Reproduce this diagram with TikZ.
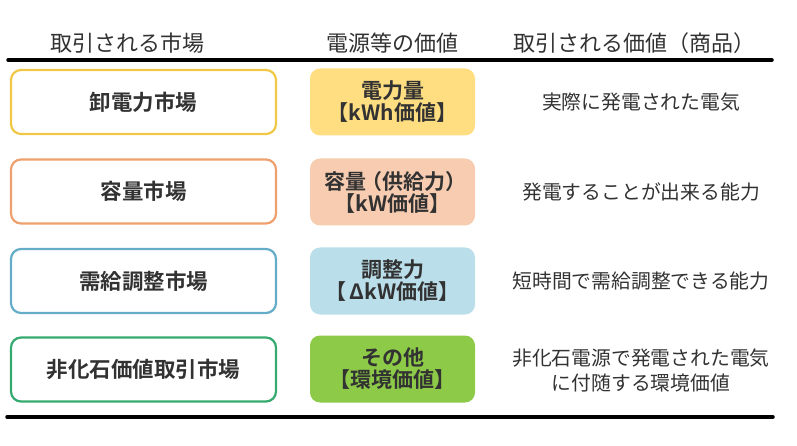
\documentclass[tikz,border=0pt]{standalone}
\usepackage{fontspec}
\setmainfont{Noto Sans CJK JP}[BoldFont={Noto Sans CJK JP Bold}]
\usetikzlibrary{positioning}
\definecolor{kwhline}{RGB}{240,200,70}
\definecolor{kwhfill}{RGB}{255,222,130}
\definecolor{kwline}{RGB}{238,160,110}
\definecolor{kwfill}{RGB}{248,204,176}
\definecolor{dkwline}{RGB}{100,172,200}
\definecolor{dkwfill}{RGB}{186,222,234}
\definecolor{envline}{RGB}{52,170,110}
\definecolor{envfill}{RGB}{140,202,72}
\definecolor{inkgray}{RGB}{50,50,50}

\tikzset{
  head/.style={font=\fontsize{22}{24}\selectfont, text=inkgray},
  rule/.style={line width=3.5pt, line cap=round},
  mktbox/.style={draw=#1, line width=2.2pt, rounded corners=10pt, minimum width=265pt, minimum height=64pt, font=\fontsize{21.5}{24}\selectfont\bfseries, text=inkgray},
  valbox/.style={fill=#1, rounded corners=10pt, minimum width=165pt, minimum height=67pt, align=center, inner sep=2pt, font=\fontsize{21}{22}\selectfont\bfseries, text=inkgray},
  goods/.style={align=center, font=\fontsize{19.8}{25}\selectfont, text=inkgray}
}

\begin{document}
\begin{tikzpicture}[x=1pt, y=-1pt]
  \useasboundingbox (0,0) rectangle (797,446);

  % column heads
  \node[head] (hmkt) at (127,43) {取引される市場};
  \node[head] (hval) at (392,43) {電源等の価値};
  \node[head] (hgoods) at (634,43) {取引される価値（商品）};
  \coordinate (topl) at (8,60);
  \coordinate (topr) at (772,60);
  \draw[rule] (topl) -- (topr);

  % wholesale
  \node[mktbox=kwhline] (mkt1) at (143.5,102) {卸電力市場};
  \node[valbox=kwhfill] (val1) at (392.5,102) {電力量\\【kWh価値】};
  \node[goods] (goods1) at (641,102) {実際に発電された電気};

  % capacity
  \node[mktbox=kwline] (mkt2) at (143.5,191.5) {容量市場};
  \node[valbox=kwfill] (val2) at (392.5,192) {容量\kern-5pt（供給力）\kern-5pt\\【kW価値】};
  \node[goods] (goods2) at (641,192) {発電することが出来る能力};

  % balancing
  \node[mktbox=dkwline] (mkt3) at (143.5,281) {需給調整市場};
  \node[valbox=dkwfill] (val3) at (392.5,281) {調整力\\【\,ΔkW価値】};
  \node[goods] (goods3) at (641,281) {短時間で需給調整できる能力};

  % non-fossil
  \node[mktbox=envline] (mkt4) at (143.5,369.5) {非化石価値取引市場};
  \node[valbox=envfill] (val4) at (392.5,369) {その他\\【環境価値】};
  \node[goods] (goods4) at (641,370) {非化石電源で発電された電気\\に付随する環境価値};

  \coordinate (botl) at (7,417);
  \coordinate (botr) at (773,417);
  \draw[rule] (botl) -- (botr);
\end{tikzpicture}
\end{document}
